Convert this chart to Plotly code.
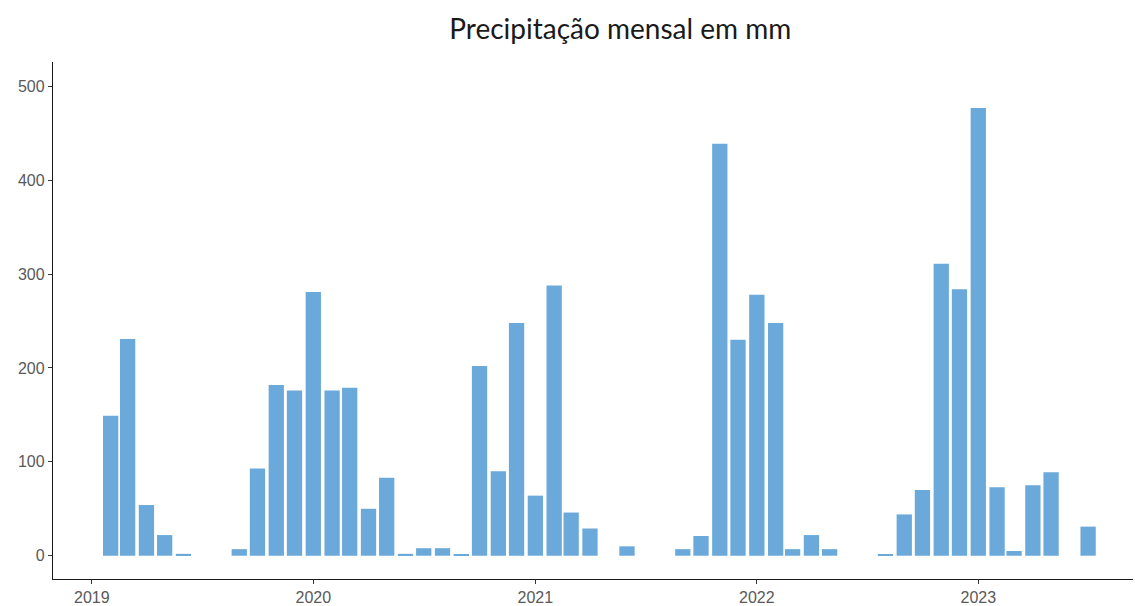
import plotly.graph_objects as go

# Monthly precipitation totals (mm), one value per month starting Feb 2019
months = [
    "2019-02-01", "2019-03-01", "2019-04-01", "2019-05-01", "2019-06-01",
    "2019-07-01", "2019-08-01", "2019-09-01", "2019-10-01", "2019-11-01",
    "2019-12-01", "2020-01-01", "2020-02-01", "2020-03-01", "2020-04-01",
    "2020-05-01", "2020-06-01", "2020-07-01", "2020-08-01", "2020-09-01",
    "2020-10-01", "2020-11-01", "2020-12-01", "2021-01-01", "2021-02-01",
    "2021-03-01", "2021-04-01", "2021-05-01", "2021-06-01", "2021-07-01",
    "2021-08-01", "2021-09-01", "2021-10-01", "2021-11-01", "2021-12-01",
    "2022-01-01", "2022-02-01", "2022-03-01", "2022-04-01", "2022-05-01",
    "2022-06-01", "2022-07-01", "2022-08-01", "2022-09-01", "2022-10-01",
    "2022-11-01", "2022-12-01", "2023-01-01", "2023-02-01", "2023-03-01",
    "2023-04-01", "2023-05-01", "2023-06-01", "2023-07-01",
]
precip_mm = [
    149, 231, 54, 22, 2,
    0, 0, 7, 93, 182,
    176, 281, 176, 179, 50,
    83, 2, 8, 8, 1,
    202, 90, 248, 64, 288,
    46, 29, 0, 10, 0,
    0, 7, 21, 439, 230,
    278, 248, 7, 22, 7,
    0, 0, 1, 44, 70,
    311, 284, 477, 73, 5,
    75, 89, 0, 31,
]
year_ticks = ["2019-01-01", "2020-01-01", "2021-01-01", "2022-01-01", "2023-01-01"]
year_labels = ["2019", "2020", "2021", "2022", "2023"]

bar_width_ms = 25.2 * 24 * 3600 * 1000  # 90% of the shortest month

fig = go.Figure(
    go.Bar(
        x=months,
        y=precip_mm,
        width=[bar_width_ms] * len(months),
        marker=dict(color="#6aa9d9", line=dict(width=0)),
    )
)

axis_font = dict(family="Liberation Sans, Arial, sans-serif", size=16, color="#595959")

fig.update_layout(
    width=1135,
    height=606,
    margin=dict(l=53, r=2, t=62, b=27),
    paper_bgcolor="white",
    plot_bgcolor="white",
    showlegend=False,
    title=dict(
        text="Precipitação mensal em mm",
        font=dict(family="Lato, sans-serif", size=28, color="#1a1a1a"),
        x=0.5465,
        xanchor="center",
        y=0.952,
        yanchor="middle",
    ),
    xaxis=dict(
        type="date",
        range=["2018-10-29", "2023-09-13"],
        tickmode="array",
        tickvals=year_ticks,
        ticktext=year_labels,
        ticks="outside",
        ticklen=4,
        tickcolor="#333333",
        tickwidth=1,
        showline=True,
        linecolor="#1a1a1a",
        linewidth=1.3,
        showgrid=False,
        zeroline=False,
        automargin=False,
        tickfont=axis_font,
    ),
    yaxis=dict(
        range=[-24.8, 526],
        tickmode="array",
        tickvals=[0, 100, 200, 300, 400, 500],
        ticks="outside",
        ticklen=4,
        tickcolor="#333333",
        tickwidth=1,
        showline=True,
        linecolor="#1a1a1a",
        linewidth=1.3,
        showgrid=False,
        zeroline=False,
        automargin=False,
        tickfont=axis_font,
    ),
)

fig.write_html("out.html")
